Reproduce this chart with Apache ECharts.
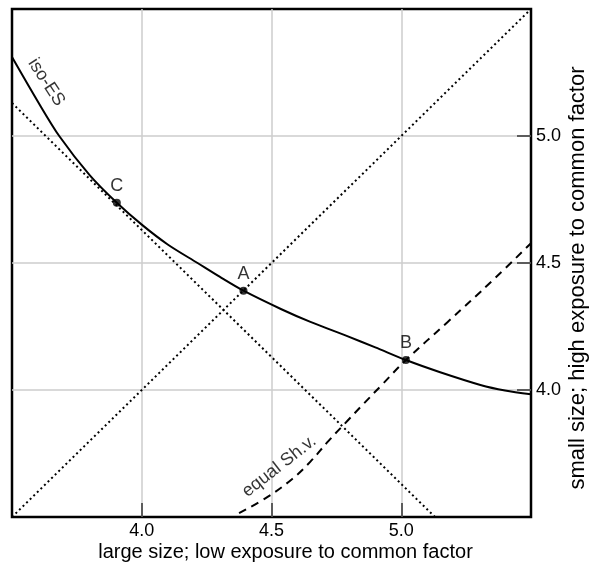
<!DOCTYPE html>
<html>
<head>
<meta charset="utf-8">
<script src="https://cdn.jsdelivr.net/npm/echarts@6/dist/echarts.min.js"></script>
<style>
html,body{margin:0;padding:0;background:#fff;}
#c{width:590px;height:574px;}
</style>
</head>
<body>
<div id="c"></div>
<script>
// ---- data ----
var xTickLabels = ['4.0', '4.5', '5.0'];
var yTickLabels = ['4.0', '4.5', '5.0'];
var xAxisName = 'large size; low exposure to common factor';
var yAxisName = 'small size; high exposure to common factor';

var isoES = [
  [3.50, 5.311], [3.60, 5.135], [3.682, 5.000], [3.80, 4.845], [3.904, 4.737],
  [4.00, 4.651], [4.10, 4.573], [4.215, 4.500], [4.30, 4.446], [4.392, 4.391],
  [4.536, 4.319], [4.65, 4.268], [4.792, 4.212], [4.90, 4.168], [5.018, 4.118],
  [5.15, 4.070], [5.305, 4.020], [5.40, 3.998], [5.50, 3.983]
];
var tangentC = [[3.50, 5.13], [5.13, 3.50]];
var diagonal = [[3.50, 3.50], [5.50, 5.50]];
var equalSharpe = [
  [4.375, 3.515], [4.485, 3.579], [4.580, 3.650], [4.650, 3.718], [4.720, 3.800],
  [4.792, 3.878], [4.856, 3.947], [4.927, 4.022], [5.018, 4.118], [5.177, 4.266],
  [5.356, 4.435], [5.50, 4.578]
];
var pointNames = ['C', 'A', 'B'];
var pointX = [3.904, 4.392, 5.018];
var pointY = [4.737, 4.391, 4.118];

var curveLabels = ['iso-ES', 'equal Sh.v.'];
var curveLabelX = [3.632, 4.53];
var curveLabelY = [5.212, 3.70];
var curveLabelRot = [-57, 38];

// ---- chart ----
var chart = echarts.init(document.getElementById('c'), null, {renderer: 'canvas'});
var font = 'Liberation Sans, Arial, Helvetica, sans-serif';

function tickFmt(list) {
  return function (v) {
    var s = v.toFixed(1);
    return list.indexOf(s) >= 0 ? s : '';
  };
}

var pts = pointNames.map(function (n, i) { return {name: n, value: [pointX[i], pointY[i]]}; });
var lbls = curveLabels.map(function (n, i) {
  return {name: n, value: [curveLabelX[i], curveLabelY[i]],
    label: {show: true, formatter: n, rotate: curveLabelRot[i], position: 'inside',
      fontSize: 18, fontFamily: font, color: '#000'}};
});

chart.setOption({
  animation: false,
  backgroundColor: '#fff',
  grid: {left: 12, right: 59, top: 9, bottom: 57, outerBoundsMode: 'none', containLabel: false,
    show: true, borderColor: '#000', borderWidth: 2.5, backgroundColor: 'transparent'},
  xAxis: {
    type: 'value', min: 3.5, max: 5.5, interval: 0.5,
    name: xAxisName, nameLocation: 'middle', nameGap: 25, nameMoveOverlap: false,
    nameTextStyle: {fontSize: 20, fontFamily: font, color: '#000', padding: [0, 0, 0, 28]},
    axisLine: {show: false},
    axisTick: {show: true, inside: true, length: 14, customValues: [4, 4.5, 5], lineStyle: {color: '#333', width: 1.5}},
    axisLabel: {formatter: tickFmt(xTickLabels), fontSize: 18, fontFamily: font, color: '#000', margin: 5},
    splitLine: {show: true, lineStyle: {color: '#cccccc', width: 1.5}}
  },
  yAxis: {
    type: 'value', position: 'right', min: 3.5, max: 5.5, interval: 0.5,
    name: yAxisName, nameLocation: 'middle', nameGap: 36, nameRotate: 90, nameMoveOverlap: false,
    nameTextStyle: {fontSize: 22, fontFamily: font, color: '#000', padding: [0, 30, 0, 0]},
    axisLine: {show: false},
    axisTick: {show: true, inside: true, length: 14, customValues: [4, 4.5, 5], lineStyle: {color: '#333', width: 1.5}},
    axisLabel: {formatter: tickFmt(yTickLabels), fontSize: 18, fontFamily: font, color: '#000', margin: 5},
    splitLine: {show: true, lineStyle: {color: '#cccccc', width: 1.5}}
  },
  series: [
    {type: 'line', data: diagonal, symbol: 'none', lineStyle: {color: '#000', width: 2, type: [2, 3]}, z: 3},
    {type: 'line', data: tangentC, symbol: 'none', lineStyle: {color: '#000', width: 2, type: [2, 3]}, z: 3},
    {type: 'line', data: equalSharpe, symbol: 'none', smooth: 0.4, lineStyle: {color: '#000', width: 2, type: [8, 6]}, z: 3},
    {type: 'line', data: isoES, symbol: 'none', smooth: 0.3, lineStyle: {color: '#000', width: 2}, z: 4},
    {type: 'scatter', data: pts, symbol: 'circle', symbolSize: 8, itemStyle: {color: '#000'}, z: 5,
      label: {show: true, position: 'top', distance: 4, formatter: '{b}', fontSize: 18, fontFamily: font, color: '#000'}},
    {type: 'scatter', data: lbls, symbolSize: 0, z: 5, silent: true}
  ]
});
</script>
</body>
</html>
